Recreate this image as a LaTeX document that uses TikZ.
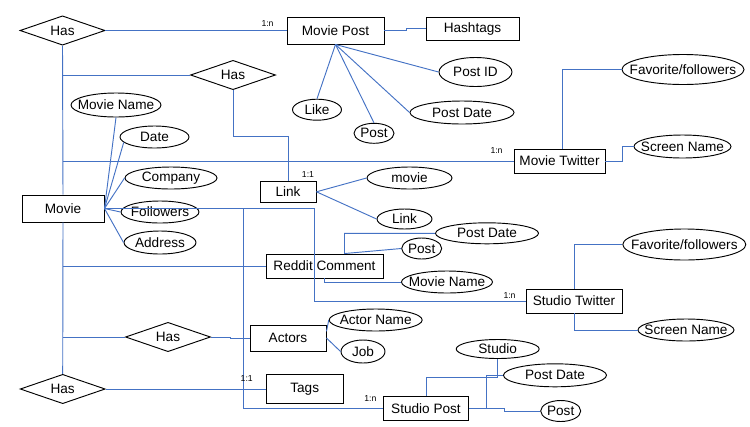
\documentclass[tikz,border=0pt]{standalone}
\usepackage{fontspec}
\setmainfont{Liberation Sans}
\usetikzlibrary{shapes.geometric}
\definecolor{lnk}{HTML}{4472C4}

\begin{document}
\begin{tikzpicture}[x=0.75pt, y=-0.75pt, line width=0.7pt,
    font=\fontsize{10.2}{12}\selectfont,
    ent/.style={draw, rectangle, inner sep=0},
    rel/.style={draw, diamond, aspect=3, inner sep=0, minimum width=63.75pt, minimum height=22pt},
    att/.style={draw, ellipse, inner sep=0, execute at begin node={\hbox to 0pt\bgroup\hss}, execute at end node={\hss\egroup}},
    con/.style={draw=lnk},
    card/.style={font=\fontsize{6.5}{7}\selectfont, inner sep=0}]
    \useasboundingbox (0,0) rectangle (750,426);
    \node[rel](h1) at (62.5,30.5){Has};
    \node[rel](h2) at (233,75){Has};
    \node[rel](h3) at (168,337){Has};
    \node[rel](h4) at (62.7,389){Has};
    \node[ent, minimum width=72.75pt, minimum height=20.25pt](mp) at (335.5,30.5){Movie Post};
    \node[ent, minimum width=69.75pt, minimum height=17.25pt](ht) at (472.5,28.5){Hashtags};
    \node[ent, minimum width=61.5pt, minimum height=20.25pt](mv) at (63,208.5){Movie};
    \node[ent, minimum width=42pt, minimum height=15.75pt](lk) at (288,191.8){Link};
    \node[ent, minimum width=68.25pt, minimum height=18pt](mt) at (559.5,161){Movie Twitter};
    \node[ent, minimum width=87.75pt, minimum height=18pt](rc) at (324.5,266){Reddit Comment};
    \node[ent, minimum width=72pt, minimum height=18pt](st) at (574,301){Studio Twitter};
    \node[ent, minimum width=57pt, minimum height=19.5pt](ac) at (288,338){Actors};
    \node[ent, minimum width=57.75pt, minimum height=21.75pt](tg) at (304.7,389){Tags};
    \node[ent, minimum width=63.75pt, minimum height=18pt](sp) at (426,408.7){Studio Post};
    \node[att, minimum width=54.75pt, minimum height=21.75pt](pid) at (475.5,72){Post ID};
    \node[att, minimum width=78pt, minimum height=17.25pt](pd1) at (462,112.5){Post Date};
    \node[att, minimum width=36.75pt, minimum height=15.75pt](lk1) at (317,109.7){Like};
    \node[att, minimum width=30pt, minimum height=15pt](pt1) at (374,133.3){Post};
    \node[att, minimum width=91.5pt, minimum height=22.5pt](ff1) at (683,69.5){Favorite/followers};
    \node[att, minimum width=72.75pt, minimum height=17.25pt](sn1) at (682.5,146.5){Screen Name};
    \node[att, minimum width=67.5pt, minimum height=18pt](mn1) at (116,105){Movie Name};
    \node[att, minimum width=51.75pt, minimum height=16.5pt](dt) at (154.5,137){Date};
    \node[att, minimum width=69pt, minimum height=16.5pt](co) at (171,178){Company};
    \node[att, minimum width=58.5pt, minimum height=16.5pt](fo) at (160,212){Followers};
    \node[att, minimum width=54pt, minimum height=17.25pt](ad) at (160,242.5){Address};
    \node[att, minimum width=63.75pt, minimum height=16.5pt](mo) at (409.5,178){movie};
    \node[att, minimum width=41.25pt, minimum height=15pt](lke) at (404.5,219){Link};
    \node[att, minimum width=77.25pt, minimum height=15.75pt](pd2) at (487,233.3){Post Date};
    \node[att, minimum width=30pt, minimum height=15.75pt](ps2) at (421.7,248.5){Post};
    \node[att, minimum width=68.25pt, minimum height=16.5pt](mn2) at (447,282){Movie Name};
    \node[att, minimum width=92.25pt, minimum height=23.25pt](ff2) at (684.3,244.5){Favorite/followers};
    \node[att, minimum width=72pt, minimum height=16.5pt](sn2) at (686,330){Screen Name};
    \node[att, minimum width=69.75pt, minimum height=16.5pt](an) at (375.7,320){Actor Name};
    \node[att, minimum width=33pt, minimum height=17.25pt](jb) at (363,351.5){Job};
    \node[att, minimum width=62.25pt, minimum height=14.25pt](so) at (497.7,349){Studio};
    \node[att, minimum width=77.25pt, minimum height=17.25pt](pd3) at (555,375.3){Post Date};
    \node[att, minimum width=30pt, minimum height=15.75pt](ps3) at (560.7,411){Post};
    \draw[con](h1.south)--(mv.north);
    \draw[con](mv.south)--(h4.north);
    \draw[con](h1.east)--(mp.west)node[card, pos=1, xshift=-14.25pt, yshift=5.25pt]{1:n};
    \draw[con](mp.east)--++(22,0)|-(ht.west);
    \draw[con](mp.south)--(lk1.north);
    \draw[con](mp.south)--(pt1.north);
    \draw[con](mp.south)--(pd1.west);
    \draw[con](mp.south)--(pid.west);
    \draw[con](h2.west -| mv.north)--(h2.west);
    \draw[con](h2.south)--++(0,46)-|(lk.north)node[card, pos=1, xshift=15pt, yshift=4.5pt]{1:1};
    \draw[con](mt.west -| mv.north)--(mt.west)node[card, pos=1, xshift=-12.75pt, yshift=7.5pt]{1:n};
    \draw[con]([xshift=2pt]mt.north)|-(ff1.west);
    \draw[con](mt.east)--++(17,0)|-(sn1.west);
    \draw[con](mv.east)--(mn1.south);
    \draw[con](mv.east)--(dt.190);
    \draw[con](mv.east)--(co.west);
    \draw[con](mv.east)--(fo.west);
    \draw[con](mv.east)--(ad.west);
    \draw[con](mv.east)--++(210,0)|-(st.west)node[card, pos=1, xshift=-12pt, yshift=3.75pt]{1:n};
    \draw[con](mv.east)++(139,0)|-(sp.west)node[card, pos=1, xshift=-9.5pt, yshift=7.5pt]{1:n};
    \draw[con](lk.east)--(mo.west);
    \draw[con](lk.east)--(lke.west);
    \draw[con](rc.west -| mv.north)--(rc.west);
    \draw[con](pd2.west)-|([xshift=15pt]rc.north)--(ps2.west);
    \draw[con](rc.south)|-(mn2.west);
    \draw[con](st.north)|-(ff2.west);
    \draw[con](st.south)|-(sn2.west);
    \draw[con](h3.west -| mv.north)--(h3.west);
    \draw[con](h3.east)--++(19,0)|-(ac.west);
    \draw[con]([yshift=5pt]ac.east)--(an.west);
    \draw[con](ac.east)--(jb.west);
    \draw[con](h4.east)--(tg.west)node[card, pos=1, xshift=-14.25pt, yshift=7.5pt]{1:1};
    \draw[con](sp.north)--++(0,-18.4)-|(so.south);
    \draw[con](sp.east)--++(17,0)|-(pd3.west);
    \draw[con](sp.east)--++(35,0)|-(ps3.west);
\end{tikzpicture}
\end{document}
